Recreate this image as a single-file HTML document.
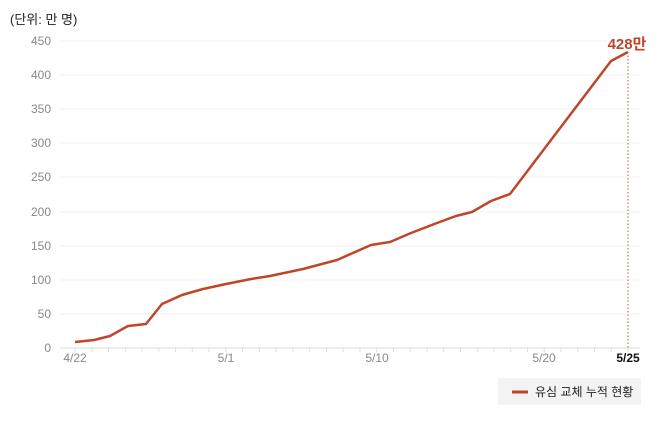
<!DOCTYPE html><html><head><meta charset="utf-8"><style>body{margin:0;background:#fff}svg{display:block;font-family:"Liberation Sans","Noto Sans CJK KR",sans-serif}</style></head><body>
<svg width="658" height="425" xmlns="http://www.w3.org/2000/svg">
<text x="10" y="24" font-size="13" fill="#222">(단위: 만 명)</text>
<g stroke="#f0f0f0" stroke-width="1">
<line x1="60" x2="640" y1="41" y2="41"/><line x1="60" x2="640" y1="75" y2="75"/><line x1="60" x2="640" y1="109" y2="109"/><line x1="60" x2="640" y1="143" y2="143"/><line x1="60" x2="640" y1="177" y2="177"/><line x1="60" x2="640" y1="212" y2="212"/><line x1="60" x2="640" y1="246" y2="246"/><line x1="60" x2="640" y1="280" y2="280"/><line x1="60" x2="640" y1="314" y2="314"/></g>
<line x1="60" x2="640" y1="348" y2="348" stroke="#ddd"/>
<g font-size="12" fill="#888" text-anchor="end">
<text x="51" y="45">450</text><text x="51" y="79">400</text><text x="51" y="113">350</text><text x="51" y="147">300</text><text x="51" y="181">250</text><text x="51" y="216">200</text><text x="51" y="250">150</text><text x="51" y="284">100</text><text x="51" y="318">50</text><text x="51" y="352">0</text></g>
<g stroke="#ddd" stroke-width="1" id="t"></g>
<g font-size="12" fill="#888" text-anchor="middle">
<text x="75" y="362">4/22</text><text x="226" y="362">5/1</text><text x="377" y="362">5/10</text><text x="544" y="362">5/20</text></g>
<text x="628" y="362" font-size="12" font-weight="bold" fill="#111" text-anchor="middle">5/25</text>
<line x1="628" x2="628" y1="52" y2="348" stroke="#c8553d" stroke-dasharray="1.5,2"/>
<polyline fill="none" stroke="#c0452a" stroke-width="2.5" stroke-linejoin="round" points="75,342 94,340 110,336 128,326 146,324 162,304 182,295 203,289 226,284 251,279 270,276 303,269 337,260 371,245 390,242 411,233 437,223 456,216 472,212 491,201 510,194 611,61 628,52"/>
<text x="627" y="49" font-size="15" font-weight="bold" fill="#c0452a" text-anchor="middle">428만</text>
<rect x="498" y="378" width="143" height="27" fill="#f3f3f3"/>
<line x1="512" x2="528" y1="392" y2="392" stroke="#c0452a" stroke-width="3"/>
<text x="535" y="396" font-size="12" fill="#222">유심 교체 누적 현황</text>
<script>var g=document.getElementById('t');for(var i=0;i<=33;i++){var x=75+i*16.76;var l=document.createElementNS('http://www.w3.org/2000/svg','line');l.setAttribute('x1',x);l.setAttribute('x2',x);l.setAttribute('y1',348);l.setAttribute('y2',352);g.appendChild(l);}</script>
</svg></body></html>
